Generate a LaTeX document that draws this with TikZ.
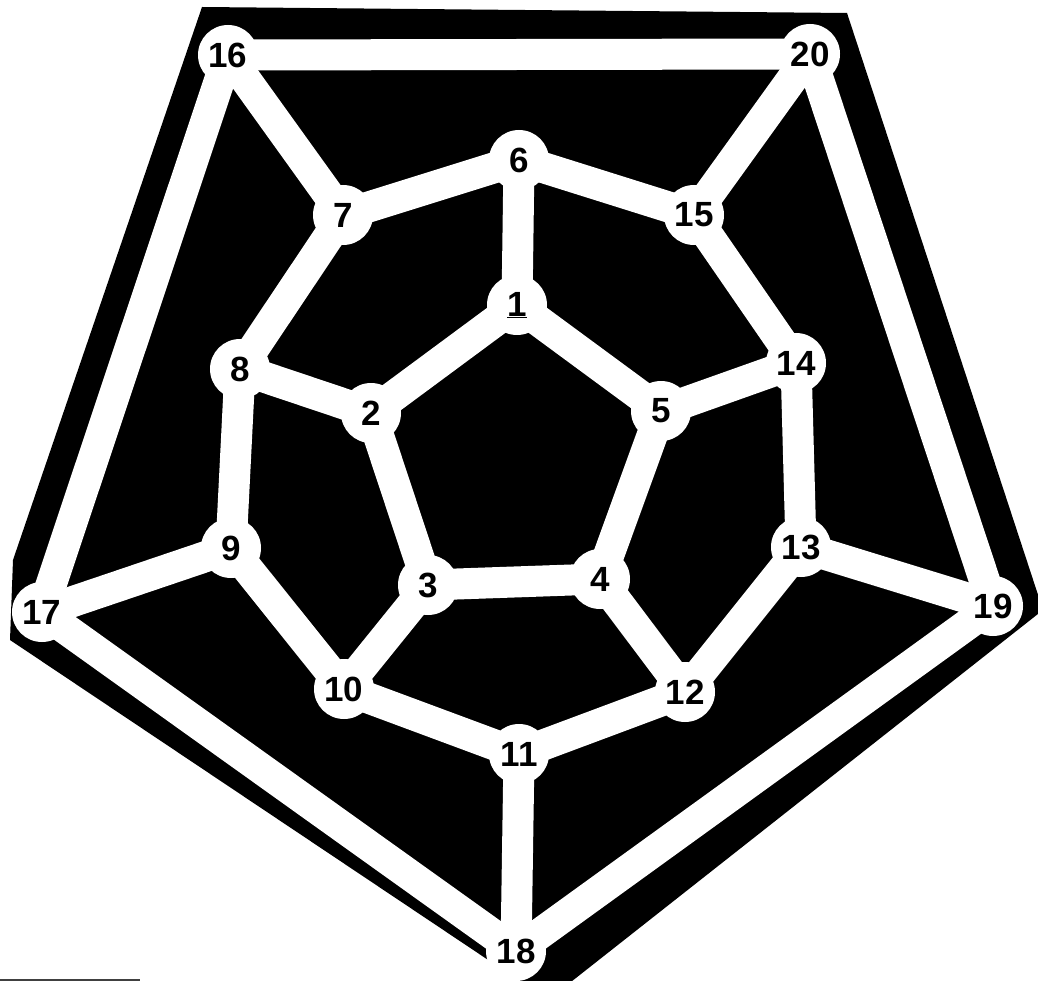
\documentclass[tikz,border=0pt]{standalone}
\usepackage{fontspec}
\setmainfont{Liberation Sans}
\usetikzlibrary{backgrounds}
\begin{document}
\begin{tikzpicture}[x=1pt,y=-1pt,
  vtx/.style={circle, fill=white, minimum size=60pt, inner sep=0pt,
    font=\fontsize{35}{35}\selectfont\bfseries},
  band/.style={white, line width=31pt}]
\useasboundingbox (0,0) rectangle (1038,981);
% vertices
\node[vtx] (n16) at (228,55) {16};
\node[vtx] (n20) at (810,54) {20};
\node[vtx] (n6) at (519,160) {6};
\node[vtx] (n7) at (343,215) {7};
\node[vtx] (n15) at (694,215) {15};
\node[vtx] (n1) at (517,305) {\underline{1}};
\node[vtx] (n8) at (240,369) {8};
\node[vtx] (n14) at (796,363) {14};
\node[vtx] (n2) at (371,413) {2};
\node[vtx] (n5) at (661,411) {5};
\node[vtx] (n9) at (231,548) {9};
\node[vtx] (n13) at (801,547) {13};
\node[vtx] (n3) at (428,585) {3};
\node[vtx] (n4) at (600,579) {4};
\node[vtx] (n17) at (42,612) {17};
\node[vtx] (n19) at (993,606) {19};
\node[vtx] (n10) at (344,689) {10};
\node[vtx] (n12) at (685,692) {12};
\node[vtx] (n11) at (519,754) {11};
\node[vtx] (n18) at (516,951) {18};
\begin{pgfonlayer}{background}
\fill[black] (202,7) -- (847,13) -- (1043,610) -- (548,1000)
  -- (10,640) -- (13,560) -- cycle;
\draw[line width=2pt, black!75] (0,980) -- (140,980);
% edges
\foreach \a/\b in {16/20,16/7,16/17,20/15,20/19,6/7,6/15,6/1,7/8,15/14,
  1/2,1/5,8/2,8/9,14/5,14/13,2/3,5/4,3/4,3/10,4/12,9/10,9/17,13/12,13/19,
  10/11,12/11,11/18,17/18,19/18}
  \draw[band] (n\a.center) -- (n\b.center);
\end{pgfonlayer}
\end{tikzpicture}
\end{document}
